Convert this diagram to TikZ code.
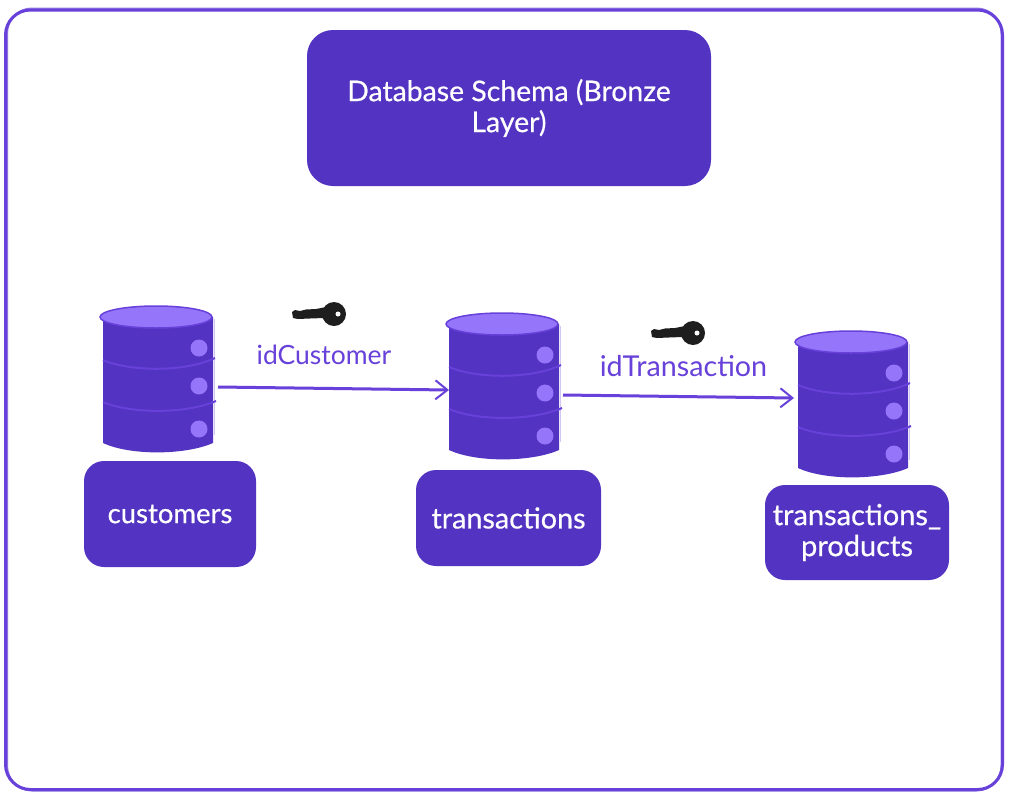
\documentclass[tikz,border=0pt]{standalone}
\usepackage{fontspec}
\setmainfont{Lato}
\newfontfamily\boxfont[FakeBold=0.5]{Lato}
\usetikzlibrary{arrows.meta}
\definecolor{vdark}{HTML}{5333C1}
\definecolor{vline}{HTML}{6741D9}
\definecolor{vlight}{HTML}{9575FA}
\definecolor{keyblack}{HTML}{1E1E1E}
\tikzset{
  x=1pt,y=-1pt,
  box/.style={fill=vdark,text=white,rounded corners=#1,inner sep=0pt,align=center,font=\boxfont\fontsize{27.5}{31}\selectfont},
  box/.default=20pt,
  lbl/.style={text=vline,inner sep=0pt,font=\fontsize{26.5}{29}\selectfont},
  flow/.style={draw=vline,line width=3pt,-{Straight Barb[length=12pt,width=19pt,line width=2pt]}},
  frame/.style={draw=vline,fill=none,rounded corners=25pt},
  dbcyl/.pic={
    \fill[vdark] (-53,0) -- (57,0) -- (57,126) .. controls (30,138) and (-25,139) .. (-53,126) -- cycle;
    \draw[white!70!vline,line width=.6pt] (58,2) -- (58,118);
    \draw[vline,line width=2pt] (-53,43) .. controls (-25,55) and (30,55) .. (59,41);
    \draw[vline,line width=2pt] (-53,85) .. controls (-25,97) and (30,97) .. (60,84);
    \fill[vlight,draw=vline,line width=1.5pt] (0,0) ellipse [x radius=56,y radius=11];
    \fill[vlight] (43,31) circle (8.5);
    \fill[vlight] (43,69) circle (8.5);
    \fill[vlight] (43,112) circle (8.5);
  },
  dbkey/.pic={
    \fill[keyblack] (-42,-2) -- (-39,-4) -- (-34,-3) -- (-28,-4.5) -- (-18,-5) -- (-8,-7) -- (0,-7) -- (0,7) -- (-10,4) -- (-24,4.5) -- (-36,5) -- (-41,4) -- cycle;
    \fill[keyblack] (0,0) circle (12);
    \fill[white] (4,0) circle (2.5);
  },
}
\begin{document}
\begin{tikzpicture}
\useasboundingbox (0,0) rectangle (1011,798);
\fill[white] (0,0) rectangle (1011,798);
% outer frame
\draw[frame,line width=3pt] (5.5,10) rectangle (1002.5,789.5);
\draw[frame,line width=2pt,opacity=.7] (7,8.5) rectangle (1001.5,790.5);
% title
\node[box=26pt,minimum width=404pt,minimum height=156pt,font=\boxfont\fontsize{28.4}{31}\selectfont] (title) at (509,108) {Database Schema (Bronze\\[0pt]Layer)};
% cylinders
\pic (c1) at (156,317) {dbcyl};
\pic (c2) at (502,324) {dbcyl};
\pic (c3) at (851,342) {dbcyl};
% connector ends on the cylinders
\coordinate (c1out) at (218,387);
\coordinate (c2in) at (449,390);
\coordinate (c2out) at (563,395);
\coordinate (c3in) at (794,398);
% name boxes
\node[box,minimum width=172pt,minimum height=106pt] (customers) at (170,514) {customers};
\node[box,minimum width=185pt,minimum height=96pt,font=\boxfont\fontsize{28.8}{31}\selectfont] (transactions) at (508.5,518) {transactions};
\node[box,minimum width=184pt,minimum height=95pt,font=\boxfont\fontsize{29}{31}\selectfont] (tp) at (857,532.5) {transactions\_\\products};
% keys
\pic at (334,314) {dbkey};
\pic at (693,333) {dbkey};
% labels
\node[lbl] (l1) at (324,355) {idCustomer};
\node[lbl,font=\fontsize{28.7}{29}\selectfont] (l2) at (683.5,366) {idTransaction};
% connectors
\draw[flow] (c1out) -- (c2in);
\draw[flow] (c2out) -- (c3in);
\end{tikzpicture}
\end{document}
